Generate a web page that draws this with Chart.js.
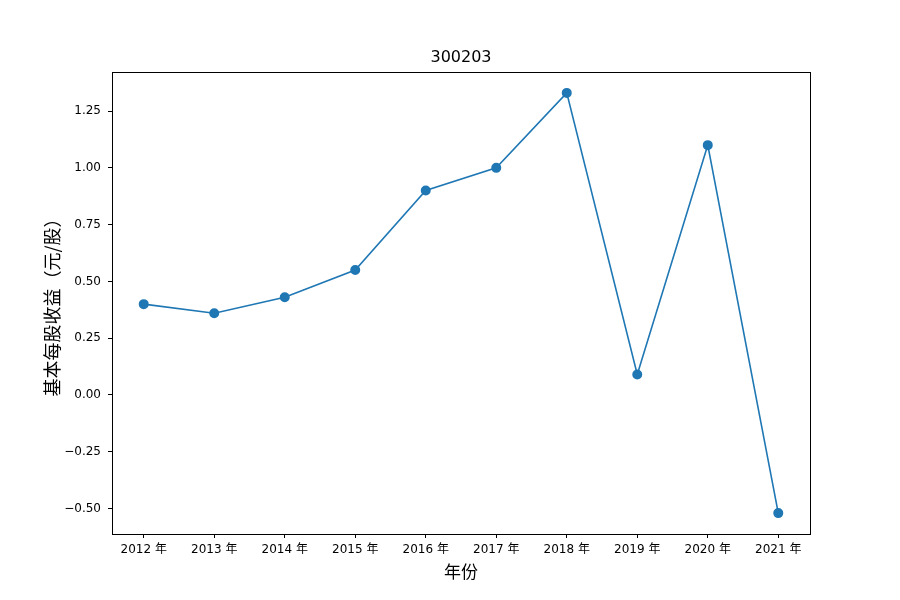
<!DOCTYPE html>
<html>
<head>
<meta charset="utf-8">
<script src="https://cdn.jsdelivr.net/npm/chart.js@4"></script>
<style>
  html, body { margin: 0; padding: 0; background: #fff; }
  #wrap { width: 900px; height: 600px; }
</style>
</head>
<body>
<div id="wrap"><canvas id="chartEps"></canvas></div>
<script>
// 数据
const years = ["2012 年", "2013 年", "2014 年", "2015 年", "2016 年", "2017 年", "2018 年", "2019 年", "2020 年", "2021 年"];
const eps = [0.40, 0.36, 0.43, 0.55, 0.90, 1.00, 1.33, 0.09, 1.10, -0.52];
const yTicks = [-0.50, -0.25, 0.00, 0.25, 0.50, 0.75, 1.00, 1.25];
const chartTitle = "300203";

const fontFamily = "'DejaVu Sans', 'Noto Sans CJK SC', sans-serif";
const cjkFont = "'Noto Sans CJK SC', 'DejaVu Sans', sans-serif";

// 外框 + 标题（标题居中于绘图区）
const frame = {
    id: "frame",
    afterDraw(chart) {
        const { ctx, chartArea: a } = chart;
        ctx.save();
        ctx.strokeStyle = "#000";
        ctx.lineWidth = 1;
        ctx.strokeRect(Math.round(a.left) + 0.5, Math.round(a.top) + 0.5, Math.round(a.right - a.left), Math.round(a.bottom - a.top));
        ctx.fillStyle = "#000";
        ctx.font = "16px " + fontFamily;
        ctx.textAlign = "center";
        ctx.textBaseline = "middle";
        ctx.fillText(chartTitle, (a.left + a.right) / 2, 58);
        ctx.restore();
    }
};

const ctx = document.getElementById("chartEps").getContext("2d");
let chart = new Chart(ctx, {
    type: "line",
    data: {
        datasets: [{
            label: chartTitle,
            data: eps.map((v, i) => ({ x: i, y: v })),
            borderColor: "#1f77b4",
            backgroundColor: "#1f77b4",
            borderWidth: 1.6,
            pointRadius: 4.2,
            pointHoverRadius: 4.2,
            tension: 0,
            fill: false
        }]
    },
    options: {
        responsive: true,
        maintainAspectRatio: false,
        animation: false,
        layout: { padding: { left: 0, right: 90, top: 72, bottom: 0 } },
        plugins: {
            legend: { display: false },
            tooltip: { enabled: false },
            title: { display: false }
        },
        scales: {
            x: {
                type: "linear",
                min: -0.45,
                max: 9.45,
                afterBuildTicks: s => { s.ticks = years.map((_, i) => ({ value: i })); },
                afterFit: s => { s.height = 66; },
                ticks: {
                    color: "#000",
                    padding: 5,
                    maxRotation: 0,
                    autoSkip: false,
                    font: { family: fontFamily, size: 12 },
                    callback: v => years[v]
                },
                grid: { drawOnChartArea: false, drawTicks: true, tickLength: 4, color: "#000" },
                border: { display: true, color: "#000" },
                title: {
                    display: true,
                    text: "年份",
                    color: "#000",
                    font: { family: cjkFont, size: 17 },
                    padding: { top: 0, bottom: 18 }
                }
            },
            y: {
                min: -0.612,
                max: 1.422,
                afterBuildTicks: s => { s.ticks = yTicks.map(v => ({ value: v })); },
                afterFit: s => { s.width = 112; },
                ticks: {
                    color: "#000",
                    padding: 7,
                    font: { family: fontFamily, size: 12 },
                    callback: v => v.toFixed(2).replace("-", "\u2212")
                },
                grid: { drawOnChartArea: false, drawTicks: true, tickLength: 4, color: "#000" },
                border: { display: true, color: "#000" },
                title: {
                    display: true,
                    text: "基本每股收益（元/股）",
                    color: "#000",
                    font: { family: cjkFont, size: 18 },
                    padding: { top: 41, bottom: 0 }
                }
            }
        }
    },
    plugins: [frame]
});
</script>
</body>
</html>
